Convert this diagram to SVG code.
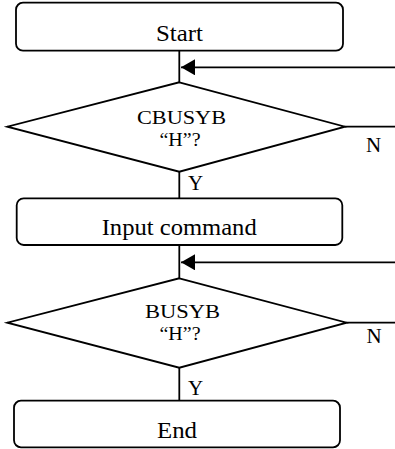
<svg xmlns="http://www.w3.org/2000/svg" width="395" height="449" viewBox="0 0 395 449">
<style>
.box{fill:#fff;stroke:#000;stroke-width:1.8}
.ln{fill:none;stroke:#000;stroke-width:1.8}
text{font-family:"Liberation Serif","Times New Roman",serif;font-size:23.5px;fill:#000}
.c{text-anchor:middle}
.d{font-size:19.5px}
.l{font-size:21px}
</style>
<defs>
<marker id="ah" markerUnits="userSpaceOnUse" markerWidth="14" markerHeight="16" viewBox="0 0 14 16" refX="14" refY="8" orient="auto">
<path d="M0,0 L14,8 L0,16 z" fill="#000"/>
</marker>
</defs>
<g id="connectors">
<path class="ln" d="M179.3,50.7 V82.3"/>
<path class="ln" d="M395,67.3 H181" marker-end="url(#ah)"/>
<path class="ln" d="M345,126.7 H395"/>
<path class="ln" d="M179.3,171.7 V198.3"/>
<path class="ln" d="M179.3,245 V278.3"/>
<path class="ln" d="M395,262.3 H181" marker-end="url(#ah)"/>
<path class="ln" d="M346.7,322.7 H395"/>
<path class="ln" d="M179.3,367.7 V400.7"/>
<text class="l" x="366" y="152">N</text>
<text class="l" x="366.5" y="343">N</text>
<text class="l" x="188" y="190">Y</text>
<text class="l" x="188" y="395">Y</text>
</g>
<g id="start">
<rect class="box" x="16" y="2.7" width="327" height="48" rx="7"/>
<text class="c" x="179.5" y="40.5" textLength="47" lengthAdjust="spacingAndGlyphs">Start</text>
</g>
<g id="cbusyb">
<path class="box" d="M179.3,82.3 L345,126.7 L179.3,171.7 L7.3,126.7 Z"/>
<text class="c d" x="181.5" y="123.5" textLength="89" lengthAdjust="spacingAndGlyphs">CBUSYB</text>
<text class="c d" x="180" y="145.7" textLength="41" lengthAdjust="spacingAndGlyphs">“H”?</text>
</g>
<g id="input">
<rect class="box" x="16.7" y="198.3" width="325.6" height="46.7" rx="7"/>
<text class="c" x="179.2" y="235" textLength="155" lengthAdjust="spacingAndGlyphs">Input command</text>
</g>
<g id="busyb">
<path class="box" d="M179.3,278.3 L346.7,322.7 L179.3,367.7 L7.3,322.7 Z"/>
<text class="c d" x="182.5" y="317.8" textLength="75" lengthAdjust="spacingAndGlyphs">BUSYB</text>
<text class="c d" x="180" y="340" textLength="41" lengthAdjust="spacingAndGlyphs">“H”?</text>
</g>
<g id="end">
<rect class="box" x="14" y="400.7" width="326" height="46.6" rx="7"/>
<text class="c" x="177" y="438.3" textLength="40" lengthAdjust="spacingAndGlyphs">End</text>
</g>
</svg>
